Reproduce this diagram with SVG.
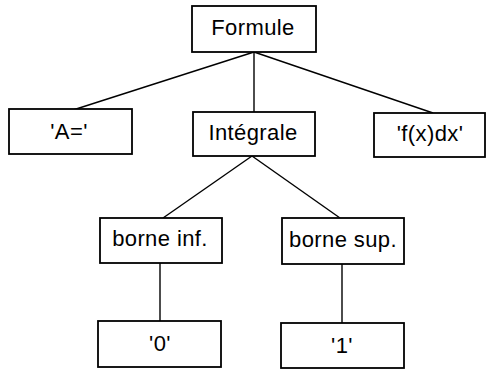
<svg xmlns="http://www.w3.org/2000/svg" width="488" height="369" viewBox="0 0 488 369">
<style>
.box{fill:#fff;stroke:#000;stroke-width:1.8}
.lbl{font-family:"Liberation Sans",Arial,sans-serif;font-size:22px;letter-spacing:0.4px;text-anchor:middle;fill:#000}
.edge{stroke:#000;stroke-width:1.4;fill:none}
</style>
<rect width="488" height="369" fill="#fff"/>
<g id="connectors">
<line class="edge" x1="254" y1="52" x2="73" y2="110"/>
<line class="edge" x1="254" y1="52" x2="254" y2="112"/>
<line class="edge" x1="254" y1="52" x2="433" y2="113"/>
<line class="edge" x1="252" y1="156" x2="163" y2="218"/>
<line class="edge" x1="252" y1="156" x2="340" y2="218"/>
<line class="edge" x1="160" y1="263" x2="160" y2="321"/>
<line class="edge" x1="342" y1="264" x2="342" y2="323"/>
</g>
<g id="formule"><rect class="box" x="192" y="6" width="124" height="46"/><text class="lbl" x="253" y="35">Formule</text></g>
<g id="a"><rect class="box" x="9" y="109" width="123" height="45"/><text class="lbl" x="69" y="139">'A='</text></g>
<g id="integrale"><rect class="box" x="193" y="112" width="122" height="44"/><text class="lbl" x="253" y="140">Intégrale</text></g>
<g id="fxdx"><rect class="box" x="374" y="113" width="111" height="44"/><text class="lbl" x="430" y="141">'f(x)dx'</text></g>
<g id="borneinf"><rect class="box" x="100" y="218" width="122" height="45"/><text class="lbl" x="160" y="246">borne inf.</text></g>
<g id="bornesup"><rect class="box" x="282" y="218" width="122" height="46"/><text class="lbl" x="343" y="247">borne sup.</text></g>
<g id="zero"><rect class="box" x="98" y="321" width="123" height="46"/><text class="lbl" x="160" y="351">'0'</text></g>
<g id="one"><rect class="box" x="281" y="323" width="123" height="45"/><text class="lbl" x="342" y="353">'1'</text></g>
</svg>
